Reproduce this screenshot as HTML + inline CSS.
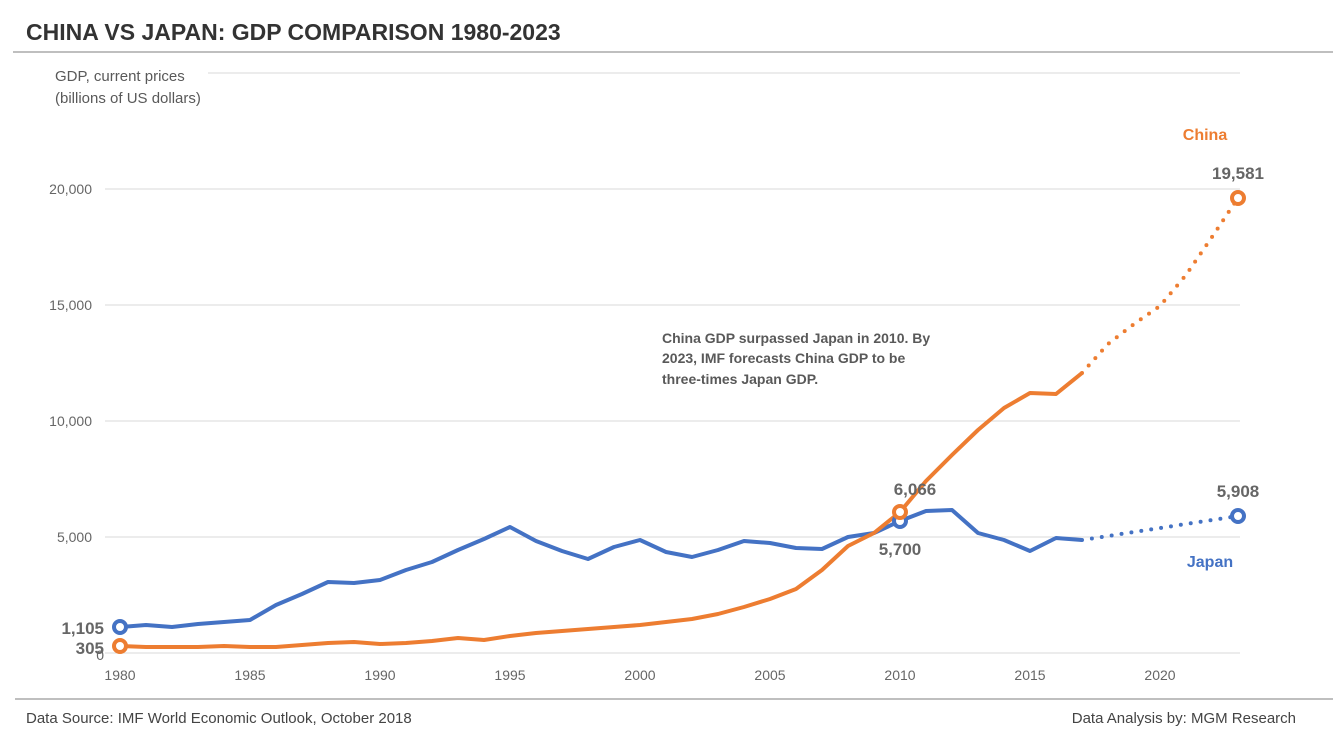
<!DOCTYPE html><html><head><meta charset="utf-8"><style>body{margin:0;background:#fff}svg{display:block}text{font-family:"Liberation Sans",sans-serif}</style></head><body>
<svg width="1333" height="741" viewBox="0 0 1333 741">
<text x="26" y="40" font-size="23" font-weight="bold" fill="#333">CHINA VS JAPAN: GDP COMPARISON 1980-2023</text>
<line x1="13" y1="52" x2="1333" y2="52" stroke="#999" stroke-width="1.2"/>
<g stroke="#d9d9d9" stroke-width="1">
<line x1="208" y1="73" x2="1240" y2="73"/><line x1="105" y1="189" x2="1240" y2="189"/><line x1="105" y1="305" x2="1240" y2="305"/><line x1="105" y1="421" x2="1240" y2="421"/><line x1="105" y1="537" x2="1240" y2="537"/><line x1="105" y1="653" x2="1240" y2="653"/></g>
<g font-size="15" fill="#595959"><text x="55" y="81">GDP, current prices</text><text x="55" y="103">(billions of US dollars)</text></g>
<g font-size="14" fill="#666" text-anchor="end"><text x="92" y="194">20,000</text><text x="92" y="310">15,000</text><text x="92" y="426">10,000</text><text x="92" y="542">5,000</text><text x="104" y="660">0</text></g>
<g font-size="14" fill="#666" text-anchor="middle"><text x="120" y="680">1980</text><text x="250" y="680">1985</text><text x="380" y="680">1990</text><text x="510" y="680">1995</text><text x="640" y="680">2000</text><text x="770" y="680">2005</text><text x="900" y="680">2010</text><text x="1030" y="680">2015</text><text x="1160" y="680">2020</text></g>
<polyline fill="none" stroke="#4472c4" stroke-width="4" stroke-linejoin="round" points="120,627 146,625 172,627 198,624 224,622 250,620 276,605 302,594 328,582 354,583 380,580 406,570 432,562 458,550 484,539 510,527 536,541 562,551 588,559 614,547 640,540 666,552 692,557 718,550 744,541 770,543 796,548 822,549 848,537 874,533 900,521 926,511 952,510 978,533 1004,540 1030,551 1056,538 1082,540"/>
<line x1="1082" y1="540" x2="1238" y2="516" stroke="#4472c4" stroke-width="4" stroke-linecap="round" stroke-dasharray="0 10"/>
<polyline fill="none" stroke="#ed7d31" stroke-width="4" stroke-linejoin="round" points="120,646 146,647 172,647 198,647 224,646 250,647 276,647 302,645 328,643 354,642 380,644 406,643 432,641 458,638 484,640 510,636 536,633 562,631 588,629 614,627 640,625 666,622 692,619 718,614 744,607 770,599 796,589 822,570 848,546 874,533 900,512 926,481 952,455 978,430 1004,408 1030,393 1056,394 1082,373"/>
<polyline fill="none" stroke="#ed7d31" stroke-width="4" stroke-linecap="round" stroke-dasharray="0 10" points="1082,373 1108,344 1134,324 1160,306 1186,275 1212,237 1238,198"/>
<g fill="#fff" stroke-width="4"><circle cx="120" cy="627" r="6" stroke="#4472c4"/><circle cx="120" cy="646" r="6" stroke="#ed7d31"/><circle cx="900" cy="521" r="6" stroke="#4472c4"/><circle cx="900" cy="512" r="6" stroke="#ed7d31"/><circle cx="1238" cy="516" r="6" stroke="#4472c4"/><circle cx="1238" cy="198" r="6" stroke="#ed7d31"/></g>
<g font-size="17" font-weight="bold" fill="#666"><text x="104" y="634" text-anchor="end">1,105</text><text x="104" y="654" text-anchor="end">305</text><text x="915" y="495" text-anchor="middle">6,066</text><text x="900" y="555" text-anchor="middle">5,700</text><text x="1238" y="497" text-anchor="middle">5,908</text><text x="1238" y="179" text-anchor="middle">19,581</text></g>
<text x="1205" y="140" font-size="16" font-weight="bold" fill="#ed7d31" text-anchor="middle">China</text>
<text x="1210" y="567" font-size="16" font-weight="bold" fill="#4472c4" text-anchor="middle">Japan</text>
<g font-size="14" font-weight="bold" fill="#595959"><text x="662" y="343">China GDP surpassed Japan in 2010. By</text><text x="662" y="363">2023, IMF forecasts China GDP to be</text><text x="662" y="384">three-times Japan GDP.</text></g>
<line x1="15" y1="699" x2="1333" y2="699" stroke="#999" stroke-width="1.2"/>
<g font-size="15" fill="#444"><text x="26" y="723">Data Source: IMF World Economic Outlook, October 2018</text><text x="1296" y="723" text-anchor="end">Data Analysis by: MGM Research</text></g>
</svg></body></html>
